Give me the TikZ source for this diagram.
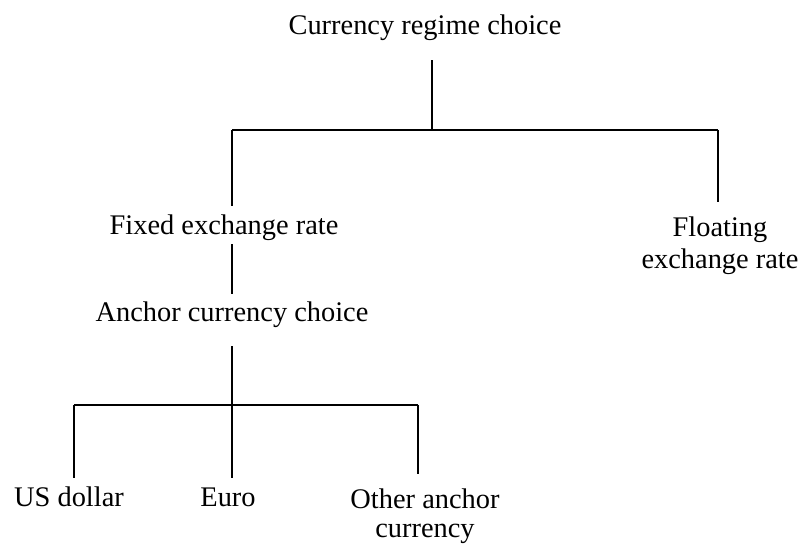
\documentclass[tikz,border=0pt]{standalone}
\usepackage{fontspec}
\setmainfont{Liberation Serif}
\usepackage{tikz}
\usetikzlibrary{positioning}

\begin{document}
\begin{tikzpicture}[x = 0.5pt, y = -0.5pt,
                    line width = 1pt,
                    lbl/.style   = {inner sep = 0pt,
                                    font = \fontsize{14.2}{16}\selectfont,
                                    text height = 0.68em,
                                    text depth = 0.22em},
                    lbltwo/.style = {inner sep = 0pt,
                                    font = \fontsize{14.2}{16}\selectfont,
                                    align = center,
                                    anchor = north}]

\useasboundingbox (0,0) rectangle (800,544);

\node[lbl, anchor = base] (regime) at (425,35) {Currency regime choice};

\node[lbl, anchor = base] (fixed) at (224,235) {Fixed exchange rate};
\node[lbltwo] (floating) at (720,216) {Floating\\exchange rate};

\node[lbl, anchor = base] (anchor) at (232,322) {Anchor currency choice};

\node[lbl, anchor = base] (usd) at (69,507) {US dollar};
\node[lbl, anchor = base] (euro) at (228,507) {Euro};
\node[lbltwo, font = \fontsize{14.2}{14.5}\selectfont] (other) at (425,488)
     {Other anchor\\currency};

% junctions
\coordinate (top) at (432,130);
\coordinate (topL) at (232,130);
\coordinate (topR) at (718,130);
\coordinate (mid) at (232,405);
\coordinate (midL) at (74,405);
\coordinate (midR) at (418,405);

\draw[shorten <= 10pt] (regime.south -| top) -- (top);
\draw (topL) -- (topR);
\draw[shorten >= 7pt] (topL) -- (topL |- fixed.north);
\draw[shorten >= 7pt] (topR) -- (topR |- floating.north);

\draw[shorten <= 2pt, shorten >= 6.5pt] (fixed.south -| topL) -- (anchor.north -| topL);
\draw[shorten <= 9.5pt] (anchor.south -| mid) -- (mid);

\draw (midL) -- (midR);
\draw[shorten >= 7pt] (midL) -- (midL |- usd.north);
\draw[shorten >= 7pt] (mid) -- (mid |- euro.north);
\draw[shorten >= 7pt] (midR) -- (midR |- other.north);

\end{tikzpicture}
\end{document}
